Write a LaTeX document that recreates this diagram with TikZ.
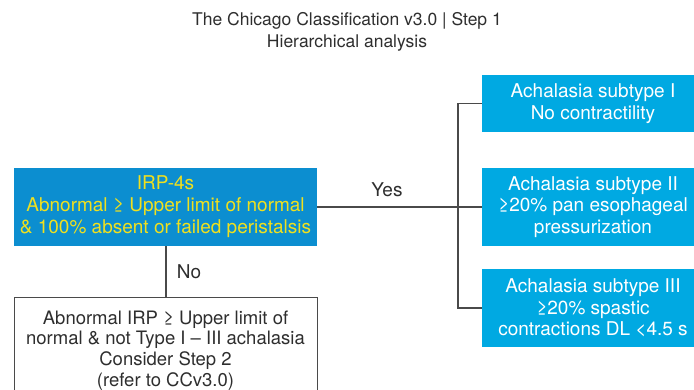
\documentclass[tikz,border=0pt]{standalone}
\usepackage{fontspec}
\setmainfont{TeX Gyre Heros}
\definecolor{mainblue}{HTML}{0C8ED0}
\definecolor{subblue}{HTML}{00A9E2}
\definecolor{irpyellow}{HTML}{F0E01E}
\definecolor{txtgray}{HTML}{2E2E2E}
\definecolor{linegray}{HTML}{4A4A4A}
\tikzset{
  txt/.style={font=\fontsize{19}{22}\selectfont, align=center, text=txtgray, inner sep=0pt},
  mainbox/.style={fill=mainblue, draw=none, minimum width=303pt, minimum height=78pt, inner sep=0pt,
    align=center, text=irpyellow, font=\fontsize{19}{22}\selectfont},
  subbox/.style={fill=subblue, draw=none, minimum width=222pt, inner sep=0pt,
    align=center, text=white, font=\fontsize{19}{21.5}\selectfont},
  conn/.style={draw=linegray, line width=1.1pt},
}
\begin{document}
\begin{tikzpicture}[x=1pt,y=-1pt]
\useasboundingbox (0,0) rectangle (694,390);
\node[txt, font=\fontsize{17.5}{22}\selectfont] (title) at (347,32) {The Chicago Classification v3.0 | Step 1\\Hierarchical analysis};
\node[mainbox] (irp) at (165.5,207) {IRP-4s\\Abnormal ≥ Upper limit of normal\\\& 100\% absent or failed peristalsis};
\node[subbox, minimum height=57pt] (s1) at (593,103.5) {Achalasia subtype I\\No contractility};
\node[subbox, minimum height=78pt] (s2) at (593,207) {Achalasia subtype II\\≥20\% pan esophageal\\pressurization};
\node[subbox, minimum height=78pt] (s3) at (593,308) {Achalasia subtype III\\≥20\% spastic\\contractions DL <4.5 s};
\coordinate (j1) at (458,103.5);
\coordinate (j3) at (458,308);
\draw[conn] (irp.east) -- (s2.west);
\draw[conn] (s1.west) -- (j1) -- (j3) -- (s3.west);
\node[txt] (yes) at (387,190) {Yes};
% bottom box (open at the bottom edge)
\coordinate (bl) at (14,392);
\coordinate (tl) at (14,297.5);
\coordinate (tr) at (317,297.5);
\coordinate (br) at (317,392);
\draw[conn, line width=1pt] (bl) -- (tl) -- (tr) -- (br);
\node[txt, font=\fontsize{18.5}{20.7}\selectfont] (step2) at (165.5,350.5) {Abnormal IRP ≥ Upper limit of\\normal \& not Type I – III achalasia\\Consider Step 2\\(refer to CCv3.0)};
\coordinate (nob) at (166,297.5);
\draw[conn] (irp.south -| nob) -- (nob);
\node[txt] (no) at (189,272) {No};
\end{tikzpicture}
\end{document}
